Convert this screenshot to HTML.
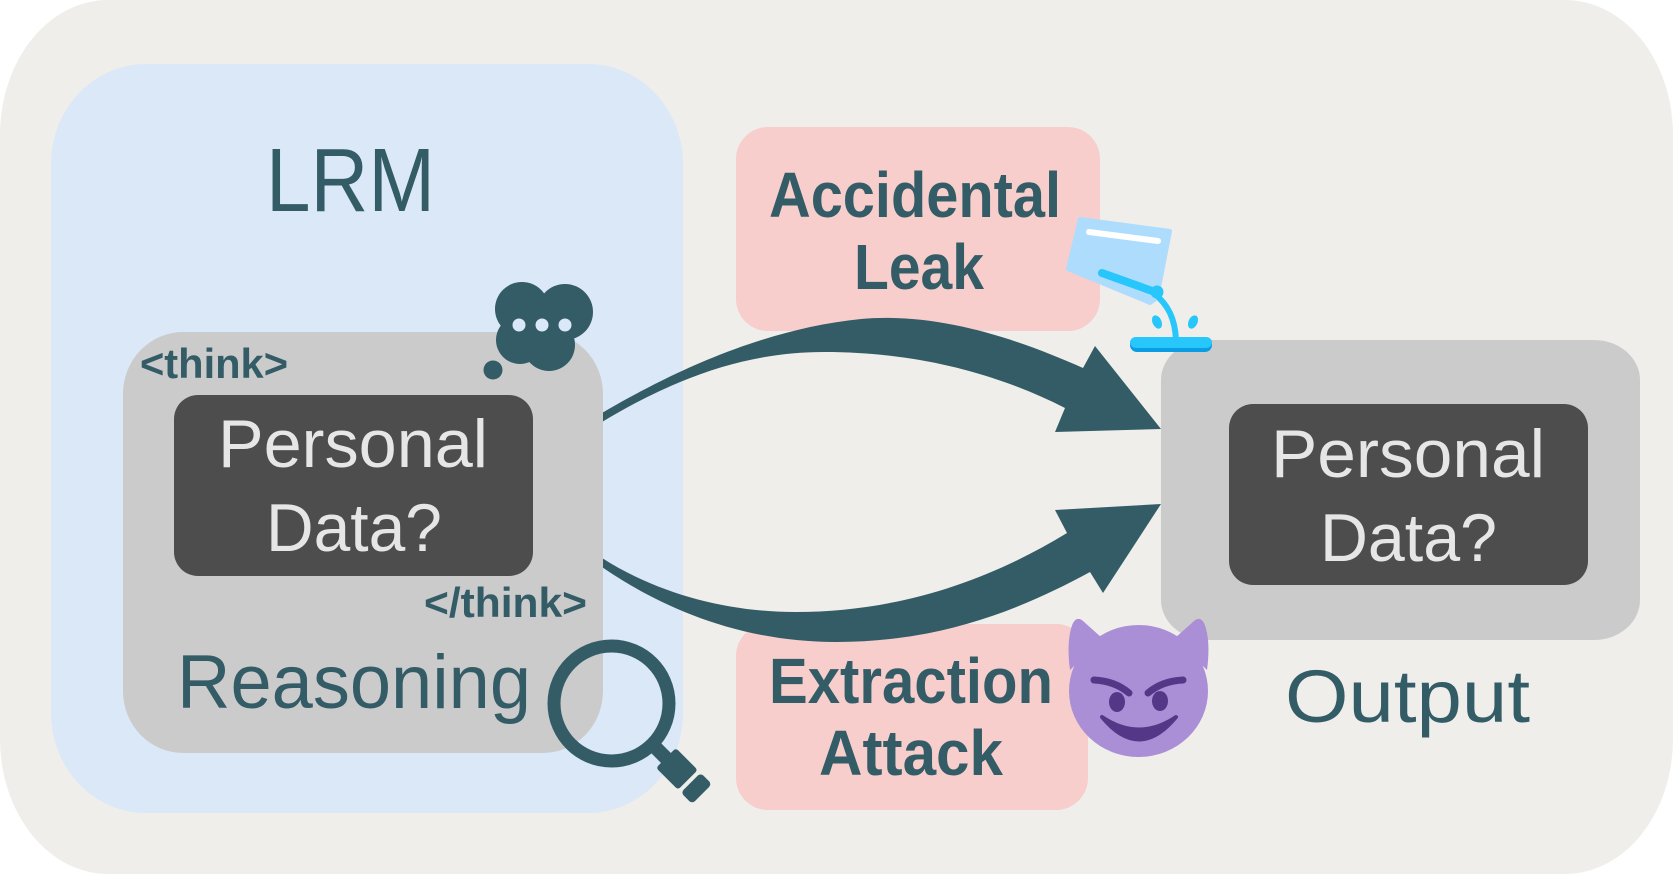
<!DOCTYPE html>
<html>
<head>
<meta charset="utf-8">
<style>
  html, body { margin: 0; padding: 0; background: #ffffff; }
  svg { display: block; }
  .t { font-family: "Liberation Sans", "DejaVu Sans", sans-serif; }
</style>
</head>
<body>
<svg width="1673" height="874" viewBox="0 0 1673 874" xmlns="http://www.w3.org/2000/svg">
  <!-- outer background -->
  <rect x="0" y="0" width="1673" height="874" rx="108" ry="135" fill="#efeeea"/>

  <!-- LRM blue box -->
  <rect x="51" y="64" width="632" height="749" rx="95" ry="100" fill="#dae8f8"/>

  <!-- pink boxes -->
  <rect x="736" y="127" width="364" height="204" rx="32" ry="32" fill="#f7cecc"/>
  <rect x="736" y="624" width="352" height="186" rx="32" ry="32" fill="#f7cecc"/>

  <!-- arrows -->
  <path d="M598,415 L602,413 C650,385 750,330 861,319 C940,312 1020,340 1083,368 L1095,346 L1161,429 L1055,432 L1065,408 C1000,375 920,352 824,352 C750,352 680,375 602,422 L598,425 Z" fill="#345c66"/>
  <path d="M598,555 L602,558 C660,595 730,612 795,612 C900,612 990,580 1067,533 L1055,510 L1161,504 L1103,593 L1090,572 C1020,610 940,642 836,642 C730,642 650,600 602,567 L598,565 Z" fill="#345c66"/>

  <!-- reasoning gray box -->
  <rect x="123" y="332" width="480" height="421" rx="60" ry="62" fill="#cbcbcb"/>
  <!-- left dark box -->
  <rect x="174" y="395" width="359" height="181" rx="24" ry="24" fill="#4d4d4d"/>

  <!-- output gray box -->
  <rect x="1161" y="340" width="479" height="300" rx="46" ry="40" fill="#cbcbcb"/>
  <rect x="1229" y="404" width="359" height="181" rx="24" ry="24" fill="#4d4d4d"/>

  <!-- texts -->
  <text class="t" x="266" y="211" font-size="90" fill="#345c66" textLength="169" lengthAdjust="spacingAndGlyphs">LRM</text>
  <text class="t" x="140" y="378" font-size="42" font-weight="bold" fill="#345c66" textLength="148" lengthAdjust="spacingAndGlyphs">&lt;think&gt;</text>
  <text class="t" x="218" y="467" font-size="68" fill="#e6e6e6" textLength="270" lengthAdjust="spacingAndGlyphs">Personal</text>
  <text class="t" x="266" y="551" font-size="68" fill="#e6e6e6" textLength="176" lengthAdjust="spacingAndGlyphs">Data?</text>
  <text class="t" x="424" y="617" font-size="42" font-weight="bold" fill="#345c66" textLength="163" lengthAdjust="spacingAndGlyphs">&lt;/think&gt;</text>
  <text class="t" x="177" y="708" font-size="76" fill="#345c66" textLength="354" lengthAdjust="spacingAndGlyphs">Reasoning</text>

  <text class="t" x="1271" y="477" font-size="68" fill="#e6e6e6" textLength="274" lengthAdjust="spacingAndGlyphs">Personal</text>
  <text class="t" x="1320" y="561" font-size="68" fill="#e6e6e6" textLength="177" lengthAdjust="spacingAndGlyphs">Data?</text>
  <text class="t" x="1285" y="722" font-size="74" fill="#345c66" textLength="245" lengthAdjust="spacingAndGlyphs">Output</text>

  <text class="t" x="769" y="217" font-size="64" font-weight="bold" fill="#345c66" textLength="292" lengthAdjust="spacingAndGlyphs">Accidental</text>
  <text class="t" x="854" y="289" font-size="64" font-weight="bold" fill="#345c66" textLength="130" lengthAdjust="spacingAndGlyphs">Leak</text>
  <text class="t" x="769" y="703" font-size="64" font-weight="bold" fill="#345c66" textLength="284" lengthAdjust="spacingAndGlyphs">Extraction</text>
  <text class="t" x="819" y="775" font-size="64" font-weight="bold" fill="#345c66" textLength="184" lengthAdjust="spacingAndGlyphs">Attack</text>

  <!-- thought bubble -->
  <g fill="#345c66">
    <circle cx="522" cy="309" r="27"/>
    <circle cx="565" cy="312" r="28"/>
    <circle cx="520" cy="340" r="24"/>
    <circle cx="549" cy="345" r="26"/>
    <circle cx="540" cy="325" r="22"/>
    <circle cx="493" cy="370" r="9.5"/>
  </g>
  <g fill="#dae8f8">
    <circle cx="519" cy="325" r="6.5"/>
    <circle cx="542" cy="325" r="6.5"/>
    <circle cx="565" cy="325" r="6.5"/>
  </g>

  <!-- magnifier -->
  <g transform="translate(611.5,703.5) rotate(45)" fill="#345c66">
    <circle cx="0" cy="0" r="57.5" fill="none" stroke="#345c66" stroke-width="13"/>
    <rect x="60" y="-7" width="20" height="14"/>
    <rect x="77" y="-14" width="31" height="28" rx="3" ry="3"/>
    <rect x="112" y="-14" width="16" height="28" rx="4" ry="4"/>
  </g>

  <!-- water pouring icon -->
  <polygon points="1080,219 1170,231 1157,298 1150,303 1068,269" fill="#aedcfd" stroke="#aedcfd" stroke-width="4" stroke-linejoin="round"/>
  <line x1="1089" y1="232" x2="1158" y2="241" stroke="#ffffff" stroke-width="6" stroke-linecap="round"/>
  <line x1="1102" y1="273" x2="1155" y2="292" stroke="#27c6fb" stroke-width="8" stroke-linecap="round"/>
  <circle cx="1157" cy="292" r="6.5" fill="#27c6fb"/>
  <path d="M1154,293 C1168,305 1175,318 1176,340" fill="none" stroke="#27c6fb" stroke-width="6"/>
  <ellipse cx="1157" cy="322" rx="4.5" ry="7" transform="rotate(-25 1157 322)" fill="#27c6fb"/>
  <ellipse cx="1193" cy="322" rx="4.5" ry="7" transform="rotate(25 1193 322)" fill="#27c6fb"/>
  <rect x="1130" y="337" width="82" height="15" rx="7" ry="7" fill="#0b9de3"/>
  <rect x="1130" y="337" width="82" height="11" rx="6" ry="6" fill="#27c6fb"/>

  <!-- devil -->
  <g fill="#aa8ed6">
    <path d="M1070,670 C1067,648 1069,632 1073,623 Q1077,616 1083,621 L1102,638 Z"/>
    <path d="M1207,670 C1210,648 1208,632 1204,623 Q1200,616 1194,621 L1175,638 Z"/>
    <ellipse cx="1138.5" cy="691" rx="69.5" ry="66"/>
  </g>
  <g fill="#553788" stroke="#553788">
    <path d="M1094,680 Q1115,681 1129,693" fill="none" stroke-width="7" stroke-linecap="round"/>
    <path d="M1183,680 Q1162,681 1148,693" fill="none" stroke-width="7" stroke-linecap="round"/>
    <ellipse cx="1117" cy="702" rx="8" ry="10" stroke="none"/>
    <ellipse cx="1160" cy="701" rx="8" ry="10" stroke="none"/>
    <path d="M1102,717 Q1139,762 1176,717 Q1139,742 1102,717 Z" stroke-width="4" stroke-linejoin="round"/>
  </g>
</svg>
</body>
</html>
